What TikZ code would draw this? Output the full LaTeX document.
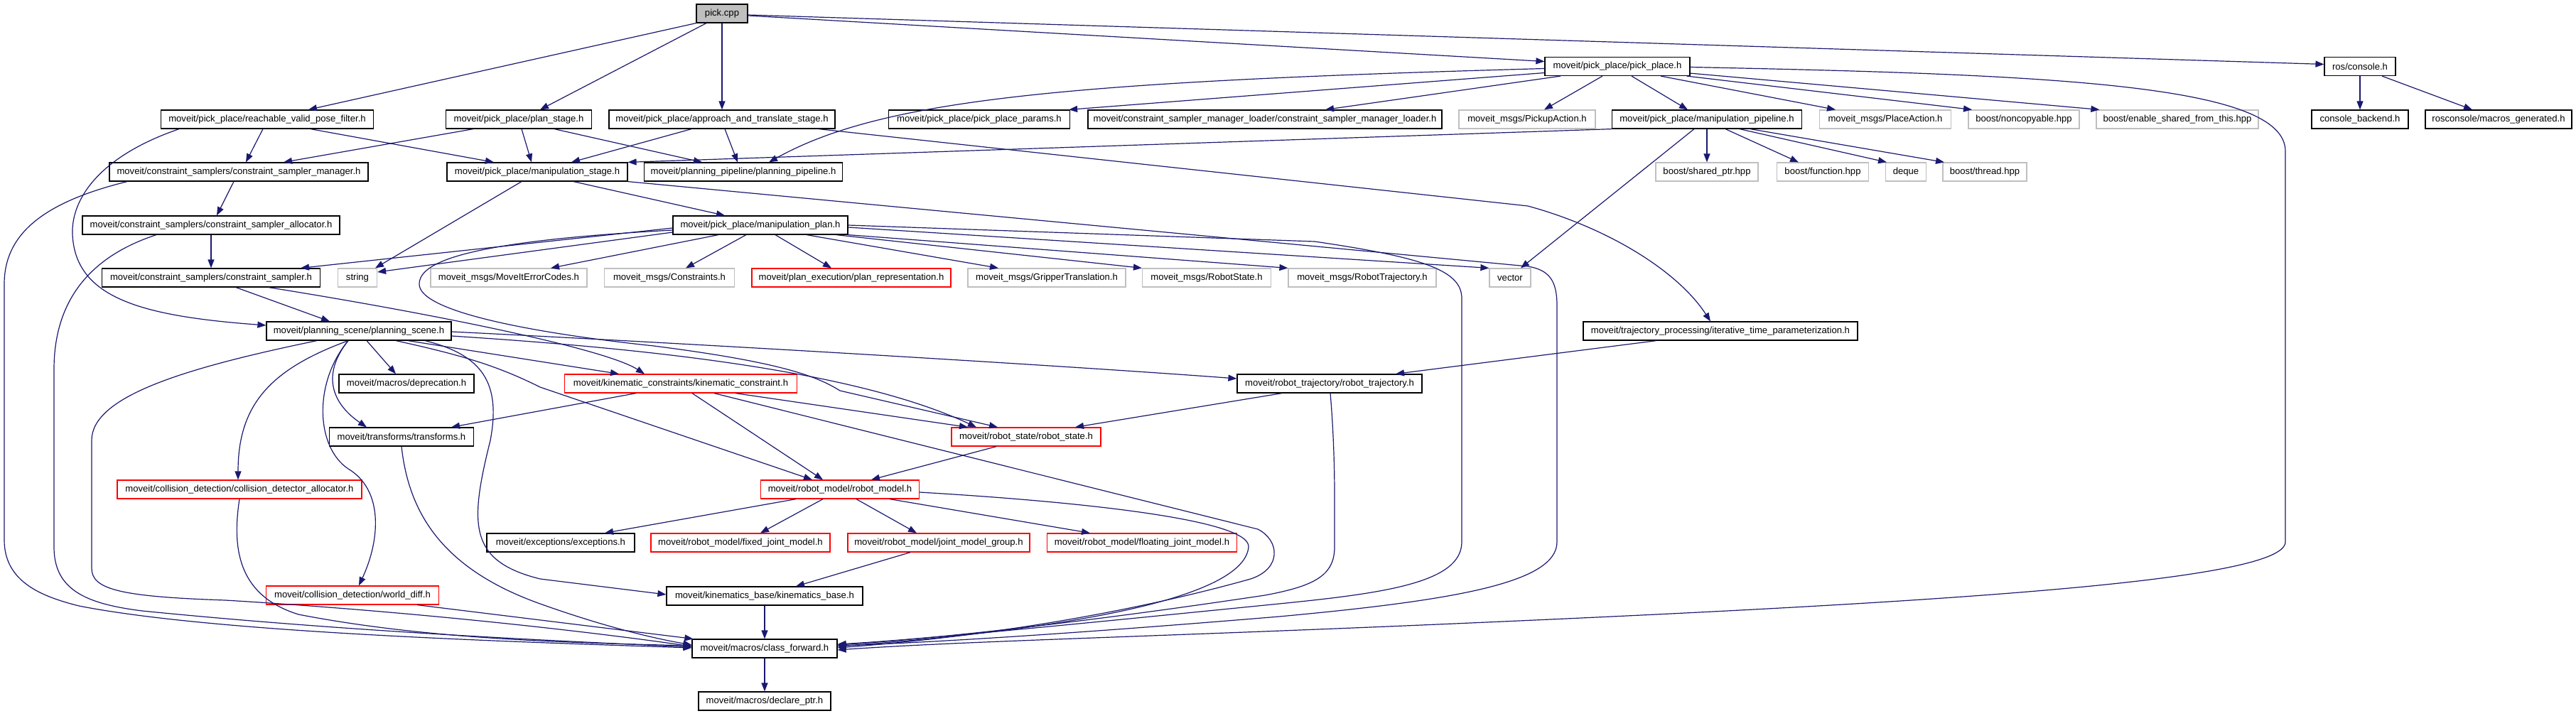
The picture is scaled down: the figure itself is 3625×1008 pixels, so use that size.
\documentclass[tikz,border=0pt]{standalone}
\usepackage{fontspec}
\setmainfont{Liberation Sans}
\usetikzlibrary{arrows.meta}
\definecolor{edgec}{HTML}{191970}
\definecolor{gbd}{HTML}{BFBFBF}
\definecolor{rootfill}{HTML}{BFBFBF}
\definecolor{rbd}{HTML}{FF0000}
\begin{document}
\begin{tikzpicture}[x=1pt,y=-1pt,
  nb/.style={draw=black, fill=white, line width=1.2pt, minimum height=26pt, inner xsep=5pt, inner ysep=0pt, font=\fontsize{13.1}{15}\selectfont},
  ng/.style={nb, draw=gbd},
  nr/.style={nb, draw=rbd},
  root/.style={nb, fill=rootfill},
  e/.style={draw=edgec, line width=1.2pt, -{Triangle[length=12pt,width=9pt]}}]
\useasboundingbox (0,0) rectangle (3625,1008);
\fill[white] (0,0) rectangle (3625,1008);
% row 0
\node[root, minimum width=72pt] (pick) at (1016,19) {pick.cpp};
% row 1
\node[nb, minimum width=204pt] (pp) at (2276,93.5) {moveit/pick\_place/pick\_place.h};
\node[nb, minimum width=100pt] (ros) at (3321,93.5) {ros/console.h};
% row 2
\node[nb, minimum width=299pt] (rvpf) at (376,168) {moveit/pick\_place/reachable\_valid\_pose\_filter.h};
\node[nb, minimum width=205pt] (ps) at (730,168) {moveit/pick\_place/plan\_stage.h};
\node[nb, minimum width=318pt] (ats) at (1016,168) {moveit/pick\_place/approach\_and\_translate\_stage.h};
\node[nb, minimum width=255pt] (ppp) at (1378,168) {moveit/pick\_place/pick\_place\_params.h};
\node[nb, minimum width=498pt] (csml) at (1780,168) {moveit/constraint\_sampler\_manager\_loader/constraint\_sampler\_manager\_loader.h};
\node[ng, minimum width=192pt] (pua) at (2149,168) {moveit\_msgs/PickupAction.h};
\node[nb, minimum width=267pt] (mpl) at (2402,168) {moveit/pick\_place/manipulation\_pipeline.h};
\node[ng, minimum width=185pt] (pla) at (2653,168) {moveit\_msgs/PlaceAction.h};
\node[ng, minimum width=156pt] (nc) at (2848,168) {boost/noncopyable.hpp};
\node[ng, minimum width=228pt] (esft) at (3064,168) {boost/enable\_shared\_from\_this.hpp};
\node[nb, minimum width=136pt] (cb) at (3321,168) {console\_backend.h};
\node[nb, minimum width=206pt] (mg) at (3516,168) {rosconsole/macros\_generated.h};
% row 3
\node[nb, minimum width=364pt] (csm) at (336,242) {moveit/constraint\_samplers/constraint\_sampler\_manager.h};
\node[nb, minimum width=254pt] (mst) at (756,242) {moveit/pick\_place/manipulation\_stage.h};
\node[nb, minimum width=279pt] (ppl) at (1046,242) {moveit/planning\_pipeline/planning\_pipeline.h};
\node[ng, minimum width=144pt] (sp) at (2402,242) {boost/shared\_ptr.hpp};
\node[ng, minimum width=129pt] (fn) at (2565,242) {boost/function.hpp};
\node[ng, minimum width=57pt] (dq) at (2682,242) {deque};
\node[ng, minimum width=118pt] (th) at (2793,242) {boost/thread.hpp};
% row 4
\node[nb, minimum width=362pt] (csa) at (297,317) {moveit/constraint\_samplers/constraint\_sampler\_allocator.h};
\node[nb, minimum width=246pt] (mpn) at (1070,317) {moveit/pick\_place/manipulation\_plan.h};
% row 5
\node[nb, minimum width=307pt] (cs) at (297,391) {moveit/constraint\_samplers/constraint\_sampler.h};
\node[ng, minimum width=55pt] (str) at (503,391) {string};
\node[ng, minimum width=220pt] (mec) at (716,391) {moveit\_msgs/MoveItErrorCodes.h};
\node[ng, minimum width=183pt] (con) at (942,391) {moveit\_msgs/Constraints.h};
\node[nr, minimum width=280pt] (prep) at (1198,391) {moveit/plan\_execution/plan\_representation.h};
\node[ng, minimum width=222pt] (gt) at (1473,391) {moveit\_msgs/GripperTranslation.h};
\node[ng, minimum width=181pt] (rsm) at (1698,391) {moveit\_msgs/RobotState.h};
\node[ng, minimum width=208pt] (rtm) at (1917,391) {moveit\_msgs/RobotTrajectory.h};
\node[ng, minimum width=58pt] (vec) at (2125,391) {vector};
% row 6
\node[nb, minimum width=260pt] (psc) at (505,466) {moveit/planning\_scene/planning\_scene.h};
\node[nb, minimum width=386pt] (itp) at (2421,466) {moveit/trajectory\_processing/iterative\_time\_parameterization.h};
% row 7
\node[nb, minimum width=190pt] (dep) at (572,540) {moveit/macros/deprecation.h};
\node[nr, minimum width=327pt] (kc) at (958,540) {moveit/kinematic\_constraints/kinematic\_constraint.h};
\node[nb, minimum width=260pt] (rtr) at (1871,540) {moveit/robot\_trajectory/robot\_trajectory.h};
% row 8
\node[nb, minimum width=203pt] (tf) at (565,615) {moveit/transforms/transforms.h};
\node[nr, minimum width=210pt] (rst) at (1444,615) {moveit/robot\_state/robot\_state.h};
% row 9
\node[nr, minimum width=344pt] (cda) at (337,689) {moveit/collision\_detection/collision\_detector\_allocator.h};
\node[nr, minimum width=223pt] (rm) at (1182,689) {moveit/robot\_model/robot\_model.h};
% row 10
\node[nb, minimum width=208pt] (exc) at (789,764) {moveit/exceptions/exceptions.h};
\node[nr, minimum width=252pt] (fjm) at (1042,764) {moveit/robot\_model/fixed\_joint\_model.h};
\node[nr, minimum width=256pt] (jmg) at (1321,764) {moveit/robot\_model/joint\_model\_group.h};
\node[nr, minimum width=267pt] (flm) at (1607,764) {moveit/robot\_model/floating\_joint\_model.h};
% row 11
\node[nr, minimum width=243pt] (wd) at (496,838) {moveit/collision\_detection/world\_diff.h};
\node[nb, minimum width=276pt] (kb) at (1076,839) {moveit/kinematics\_base/kinematics\_base.h};
% row 12, 13
\node[nb, minimum width=204pt] (cf) at (1076,913) {moveit/macros/class\_forward.h};
\node[nb, minimum width=186pt] (dp) at (1076,987) {moveit/macros/declare\_ptr.h};

% ---- edges ----
% pick.cpp
\draw[e] (pick.south west) -- ([xshift=58pt]rvpf.north);
\draw[e] ([xshift=-22pt]pick.south) -- ([xshift=30pt]ps.north);
\draw[e] (pick.south) -- (ats.north);
\draw[e] ([yshift=-3pt]pick.east) -- ([yshift=7pt]pp.west);
\draw[e] ([yshift=-2pt]pick.east) -- ([yshift=3pt]ros.west);
% pick_place.h
\draw[e] ([yshift=-3pt]pp.west) .. controls (1500,115) and (1240,140) .. ([xshift=36pt]ppl.north);
\draw[e] ([yshift=-9pt]pp.west) -- ([xshift=-2pt]ppp.north east);
\draw[e] ([xshift=-80pt]pp.south) -- ([xshift=85pt]csml.north);
\draw[e] ([xshift=-21pt]pp.south) -- ([xshift=24pt]pua.north);
\draw[e] ([xshift=20pt]pp.south) -- ([xshift=-27pt]mpl.north);
\draw[e] ([xshift=61pt]pp.south) -- ([xshift=-70pt]pla.north);
\draw[e] ([xshift=-5pt]pp.south east) -- ([xshift=-73pt]nc.north);
\draw[e] ([yshift=4pt]pp.south east) -- ([xshift=5pt]esft.north west);
\draw[e] ([yshift=-1pt]pp.east) .. controls (2900,105) and (3216,120) .. (3216,213) -- (3216,763)
   .. controls (3216,820) and (2700,850) .. (2000,880) .. controls (1600,897) and (1350,903) .. ([yshift=-2pt]cf.east);
% ros/console.h
\draw[e] (ros.south) -- (cb.north);
\draw[e] ([xshift=31pt]ros.south) -- ([xshift=-37pt]mg.north);
% manipulation_pipeline.h
\draw[e] (mpl.south west) -- (mst.north east);
\draw[e] ([xshift=-18pt]mpl.south) -- ([xshift=15pt]vec.north);
\draw[e] (mpl.south) -- (sp.north);
\draw[e] ([xshift=26pt]mpl.south) -- ([xshift=-34pt]fn.north);
\draw[e] ([xshift=46pt]mpl.south) -- ([xshift=-27pt]dq.north);
\draw[e] ([xshift=61pt]mpl.south) -- ([xshift=-57pt]th.north);
% approach_and_translate_stage.h
\draw[e] ([xshift=-43pt]ats.south) -- ([xshift=48pt]mst.north);
\draw[e] ([xshift=4pt]ats.south) -- ([xshift=-8pt]ppl.north);
\draw[e] ([xshift=136pt]ats.south) -- (2150,290) .. controls (2260,320) and (2360,380) .. ([xshift=-14pt]itp.north);
% plan_stage.h
\draw[e] ([xshift=-64pt]ps.south) -- ([xshift=63pt]csm.north);
\draw[e] ([xshift=4pt]ps.south) -- ([xshift=-8pt]mst.north);
\draw[e] ([xshift=50pt]ps.south) -- ([xshift=-58pt]ppl.north);
% reachable_valid_pose_filter.h
\draw[e] ([xshift=-6pt]rvpf.south) -- ([xshift=10pt]csm.north);
\draw[e] ([xshift=61pt]rvpf.south) -- ([xshift=-61pt]mst.north);
\draw[e] ([xshift=-124pt]rvpf.south) .. controls (140,220) and (100,280) .. (102,330)
   .. controls (106,420) and (200,445) .. ([yshift=8pt]psc.west);
% constraint_sampler_manager.h
\draw[e] ([xshift=-7pt]csm.south) -- ([xshift=8pt]csa.north);
\draw[e] ([xshift=-157pt]csm.south) .. controls (60,285) and (6,330) .. (6,400) -- (6,760)
   .. controls (6,820) and (60,840) .. (111,853) .. controls (300,890) and (700,903) .. ([yshift=1pt]cf.west);
% constraint_sampler_allocator.h
\draw[e] (csa.south) -- (cs.north);
\draw[e] ([xshift=-77pt]csa.south) .. controls (130,360) and (76,420) .. (76,520) -- (76,770)
   .. controls (76,830) and (120,850) .. (200,860) .. controls (500,890) and (800,903) .. ([yshift=2pt]cf.west);
% constraint_sampler.h
\draw[e] ([xshift=35pt]cs.south) -- ([xshift=-41pt]psc.north);
\draw[e] ([xshift=81pt]cs.south) .. controls (600,440) and (850,490) .. ([xshift=-51pt]kc.north);
% manipulation_stage.h
\draw[e] ([xshift=-22pt]mst.south) -- ([xshift=25pt]str.north);
\draw[e] ([xshift=51pt]mst.south) -- ([xshift=-50pt]mpn.north);
\draw[e] (mst.south east) -- (2150,375) .. controls (2180,380) and (2191,395) .. (2191,430) -- (2191,763)
   .. controls (2191,820) and (2050,845) .. (1800,868) .. controls (1500,893) and (1300,905) .. ([yshift=4pt]cf.east);
% manipulation_plan.h
\draw[e] (mpn.east) -- (1850,340) .. controls (2000,362) and (2057,380) .. (2057,420) -- (2057,763)
   .. controls (2057,820) and (1950,835) .. (1800,850) .. controls (1500,880) and (1300,900) .. ([yshift=6pt]cf.east);
\draw[e] ([yshift=-3pt]mpn.east) -- (vec.north west);
\draw[e] (mpn.south east) -- (rtm.north west);
\draw[e] ([xshift=-17pt]mpn.south east) -- (rsm.north west);
\draw[e] ([xshift=65pt]mpn.south) -- ([xshift=-68pt]gt.north);
\draw[e] ([xshift=21pt]mpn.south) -- ([xshift=-28pt]prep.north);
\draw[e] ([xshift=-20pt]mpn.south) -- ([xshift=23pt]con.north);
\draw[e] ([xshift=-59pt]mpn.south) -- ([xshift=59pt]mec.north);
\draw[e] ([yshift=-10pt]mpn.west) -- ([yshift=8pt]str.east);
\draw[e] ([yshift=-4pt]mpn.west) -- ([xshift=126pt]cs.north);
\draw[e] ([yshift=-7pt]mpn.west) .. controls (650,340) and (590,370) .. (590,400)
   .. controls (590,440) and (760,470) .. (920,487) .. controls (1100,510) and (1150,530) .. (1182,550) -- ([xshift=-40pt]rst.north);
% planning_scene.h
\draw[e] ([xshift=-59pt]psc.south) .. controls (250,520) and (129,560) .. (129,620) -- (129,800)
   .. controls (129,830) and (170,840) .. (317,845) .. controls (600,862) and (850,892) .. ([yshift=3pt]cf.west);
\draw[e] ([xshift=-15pt]psc.south) .. controls (380,520) and (335,570) .. ([xshift=-2pt]cda.north);
\draw[e] ([xshift=-15pt]psc.south) .. controls (450,530) and (470,570) .. ([xshift=-49pt]tf.north);
\draw[e] ([xshift=-15pt]psc.south) .. controls (440,540) and (445,630) .. (490,660)
   .. controls (540,690) and (535,760) .. ([xshift=9pt]wd.north);
\draw[e] ([xshift=11pt]psc.south) -- ([xshift=-15pt]dep.north);
\draw[e] ([xshift=69pt]psc.south) -- ([xshift=-87pt]kc.north);
\draw[e] ([xshift=52pt]psc.south) .. controls (650,500) and (700,515) .. (760,545) -- ([xshift=-39pt]rm.north);
\draw[e] ([xshift=93pt]psc.south) .. controls (680,500) and (705,540) .. (690,620)
   .. controls (660,740) and (660,790) .. (760,815) -- ([yshift=2pt]kb.west);
\draw[e] ([yshift=-7pt]psc.east) .. controls (900,490) and (1200,520) .. ([xshift=-70pt]rst.north);
\draw[e] ([yshift=-1pt]psc.east) .. controls (1000,485) and (1500,515) .. ([yshift=7pt]rtr.west);
% kinematic_constraint.h
\draw[e] ([xshift=-63pt]kc.south) -- ([xshift=70pt]tf.north);
\draw[e] ([xshift=16pt]kc.south) -- ([xshift=-24pt]rm.north);
\draw[e] ([xshift=77pt]kc.south) -- ([xshift=-82pt]rst.north);
\draw[e] ([xshift=47pt]kc.south) -- (1770,745) .. controls (1800,760) and (1805,800) .. (1760,815)
   .. controls (1600,860) and (1400,895) .. ([yshift=1pt]cf.east);
% robot_state.h, robot_trajectory.h, iterative
\draw[e] ([xshift=-42pt]rst.south) -- ([xshift=44pt]rm.north);
\draw[e] ([xshift=-67pt]rtr.south) -- ([xshift=69pt]rst.north);
\draw[e] ([xshift=1pt]rtr.south) .. controls (1876,600) and (1878,650) .. (1878,700) -- (1878,770)
   .. controls (1878,810) and (1850,825) .. (1780,838) .. controls (1500,880) and (1300,900) .. ([yshift=5pt]cf.east);
\draw[e] ([xshift=-90pt]itp.south) -- ([xshift=93pt]rtr.north);
% robot_model.h
\draw[e] ([xshift=-62pt]rm.south) -- ([xshift=62pt]exc.north);
\draw[e] ([xshift=-24pt]rm.south) -- ([xshift=28pt]fjm.north);
\draw[e] ([xshift=23pt]rm.south) -- ([xshift=-31pt]jmg.north);
\draw[e] ([xshift=70pt]rm.south) -- ([xshift=-73pt]flm.north);
\draw[e] ([yshift=-4pt]rm.east) .. controls (1500,705) and (1760,730) .. (1757,770)
   .. controls (1750,850) and (1450,890) .. ([yshift=3pt]cf.east);
% lower part
\draw[e] ([xshift=-40pt]jmg.south) -- ([xshift=44pt]kb.north);
\draw[e] (kb.south) -- (cf.north);
\draw[e] (cf.south) -- (dp.north);
\draw[e] (tf.south) .. controls (575,720) and (620,800) .. (760,850)
   .. controls (830,875) and (900,895) .. ([yshift=5pt]cf.west);
\draw[e] (cda.south) .. controls (325,780) and (340,840) .. (420,865)
   .. controls (600,900) and (800,905) .. ([yshift=4pt]cf.west);
\draw[e] ([xshift=91pt]wd.south) -- ([xshift=2pt]cf.north west);
\end{tikzpicture}
\end{document}
